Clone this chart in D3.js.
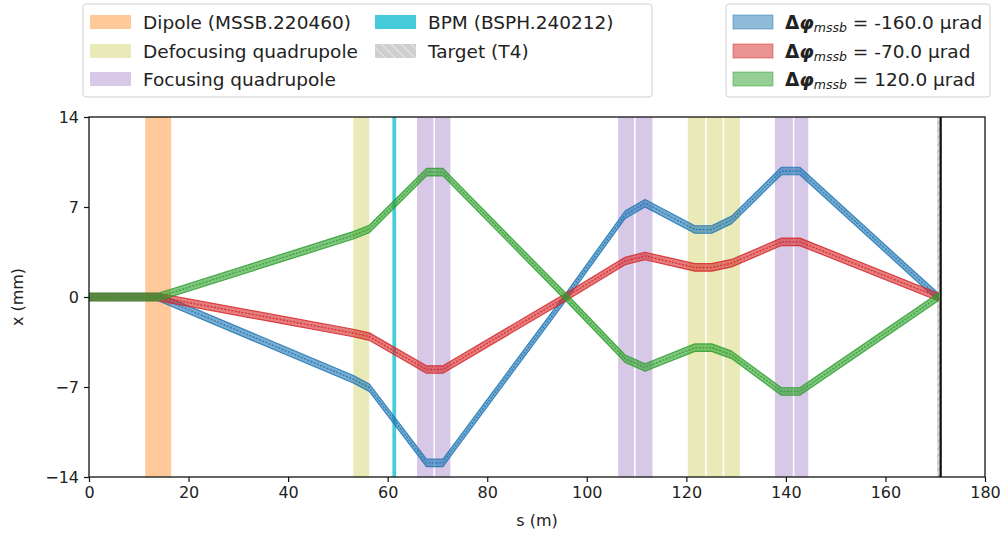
<!DOCTYPE html>
<html><head><meta charset="utf-8">
<script src="https://cdn.jsdelivr.net/npm/d3@7/dist/d3.min.js"></script>
<style>
body{margin:0;background:#fff}
text{font-family:"DejaVu Sans",sans-serif;fill:#222}
</style>
</head><body>
<svg id="c" width="1002" height="534"></svg>
<script>
// ---------- data ----------
const sPositions = [0, 13.9, 53.1, 56.3, 67.8, 71.1, 95.8, 107.7, 111.7, 121.7, 125.1, 129.1, 139.1, 142.8, 170.6];
const trajMinus160 = [0, 0, -6.4, -7.05, -12.9, -12.9, 0, 6.4, 7.3, 5.25, 5.25, 6.0, 9.8, 9.8, 0];
const trajMinus70  = [0, 0, -2.8, -3.08, -5.64, -5.64, 0, 2.8, 3.19, 2.3, 2.3, 2.63, 4.29, 4.29, 0];
const trajPlus120  = [0, 0, 4.8, 5.29, 9.71, 9.71, 0, -4.8, -5.48, -3.94, -3.94, -4.5, -7.35, -7.35, 0];
const seriesLabels = ["-160.0 µrad", "-70.0 µrad", "120.0 µrad"];

const dipoleSpans = [[11.3, 16.5]];
const defocusSpans = [[53.1, 56.3], [120.3, 123.8], [124.1, 127.3], [127.6, 130.8]];
const focusSpans = [[65.9, 69.2], [69.5, 72.6], [106.3, 109.5], [109.8, 113.2], [137.8, 141.4], [141.7, 144.5]];
const bpmSpans = [[60.95, 61.7]];
const targetSpans = [[170.4, 171.1]];
const targetLine = [171.1];

const xTicks = [0, 20, 40, 60, 80, 100, 120, 140, 160, 180];
const yTicks = [-14, -7, 0, 7, 14];

// ---------- layout ----------
const svg = d3.select("#c");
const L = 89, R = 985, T = 117, B = 477;
const x = d3.scaleLinear().domain([0, 180]).range([L, R]);
const y = d3.scaleLinear().domain([-14, 14]).range([B, T]);

const defs = svg.append("defs");
const pat = defs.append("pattern").attr("id", "hatch").attr("patternUnits", "userSpaceOnUse")
  .attr("width", 5).attr("height", 5).attr("patternTransform", "rotate(45)");
pat.append("rect").attr("width", 5).attr("height", 5).attr("fill", "#d4d4d4");
pat.append("line").attr("x1", 0).attr("y1", 0).attr("x2", 0).attr("y2", 5).attr("stroke", "#9a9a9a").attr("stroke-width", 1.6);
const pat2 = defs.append("pattern").attr("id", "hatchL").attr("patternUnits", "userSpaceOnUse")
  .attr("width", 7).attr("height", 7).attr("patternTransform", "rotate(-45)");
pat2.append("rect").attr("width", 7).attr("height", 7).attr("fill", "#cfcfcf");
pat2.append("line").attr("x1", 0).attr("y1", 0).attr("x2", 0).attr("y2", 7).attr("stroke", "#e8e8e8").attr("stroke-width", 2);
defs.append("clipPath").attr("id", "clip").append("rect").attr("x", L).attr("y", T).attr("width", R - L).attr("height", B - T);

const plot = svg.append("g").attr("clip-path", "url(#clip)");

function spans(arr, fill, op) {
  plot.selectAll(null).data(arr).enter().append("rect")
    .attr("x", d => x(d[0])).attr("width", d => x(d[1]) - x(d[0]))
    .attr("y", T).attr("height", B - T)
    .attr("fill", fill).attr("fill-opacity", op);
}
spans(dipoleSpans, "#ff7f0e", 0.42);
spans(defocusSpans, "#bcbd22", 0.32);
spans(focusSpans, "#9467bd", 0.36);
spans(bpmSpans, "#17becf", 0.8);
spans(targetSpans, "url(#hatch)", 0.9);
plot.selectAll(null).data(targetLine).enter().append("line")
  .attr("x1", d => x(d)).attr("x2", d => x(d)).attr("y1", T).attr("y2", B)
  .attr("stroke", "#111").attr("stroke-width", 2.2);

// trajectories
const colors = ["#1f77b4", "#d62728", "#2ca02c"];
const trajs = [trajMinus160, trajMinus70, trajPlus120];
const hw = 0.29;
trajs.forEach((vals, i) => {
  const pts = sPositions.map((s, j) => ({s, v: vals[j]}));
  const area = d3.area().x(d => x(d.s)).y0(d => y(d.v - hw)).y1(d => y(d.v + hw));
  plot.append("path").attr("d", area(pts)).attr("fill", colors[i]).attr("fill-opacity", 0.6)
    .attr("stroke", colors[i]).attr("stroke-width", 1.2).attr("stroke-opacity", 0.85).attr("stroke-linejoin", "round");
  const line = d3.line().x(d => x(d.s)).y(d => y(d.v));
  plot.append("path").attr("d", line(pts)).attr("fill", "none").attr("stroke", colors[i])
    .attr("stroke-width", 1.4).attr("stroke-dasharray", "2,1.5").attr("stroke-opacity", 0.85);
});

// frame
svg.append("rect").attr("x", L).attr("y", T).attr("width", R - L).attr("height", B - T)
  .attr("fill", "none").attr("stroke", "#111").attr("stroke-width", 1.3);

// axes
const xa = svg.append("g").attr("transform", `translate(0,${B})`)
  .call(d3.axisBottom(x).tickValues(xTicks).tickSize(5).tickPadding(5).tickFormat(d3.format("d")));
const ya = svg.append("g").attr("transform", `translate(${L},0)`)
  .call(d3.axisLeft(y).tickValues(yTicks).tickSize(5).tickPadding(5).tickFormat(d => d < 0 ? "\u2212" + Math.abs(d) : d));
[xa, ya].forEach(a => {
  a.select(".domain").remove();
  a.selectAll(".tick line").attr("stroke", "#111").attr("stroke-width", 1.2);
  a.selectAll(".tick text").attr("font-size", 16).attr("fill", "#222").attr("font-family", "DejaVu Sans");
});
svg.append("text").attr("x", (L + R) / 2).attr("y", 526).attr("text-anchor", "middle").attr("font-size", 16).text("s (m)");
svg.append("text").attr("transform", `translate(23,${(T + B) / 2}) rotate(-90)`).attr("text-anchor", "middle").attr("font-size", 16).text("x (mm)");

// legends
function box(x0, y0, w, h) {
  svg.append("rect").attr("x", x0).attr("y", y0).attr("width", w).attr("height", h).attr("rx", 3)
    .attr("fill", "#fff").attr("stroke", "#d0d0d0").attr("stroke-width", 1);
}
box(83, 4, 569, 93);
const rowY = [22, 51, 79];
const legL = [
  {c: 0, r: 0, fill: "#ff7f0e", op: 0.42, t: "Dipole (MSSB.220460)"},
  {c: 0, r: 1, fill: "#bcbd22", op: 0.32, t: "Defocusing quadrupole"},
  {c: 0, r: 2, fill: "#9467bd", op: 0.36, t: "Focusing quadrupole"},
  {c: 1, r: 0, fill: "#17becf", op: 0.8, t: "BPM (BSPH.240212)"},
  {c: 1, r: 1, fill: "url(#hatchL)", op: 1, t: "Target (T4)"}
];
const colX = [90, 375];
legL.forEach(d => {
  svg.append("rect").attr("x", colX[d.c]).attr("y", rowY[d.r] - 7).attr("width", 41).attr("height", 14)
    .attr("fill", d.fill).attr("fill-opacity", d.op);
  svg.append("text").attr("x", colX[d.c] + 53).attr("y", rowY[d.r] + 6.5).attr("font-size", 18.5).text(d.t);
});
box(726, 4, 264, 93);
seriesLabels.forEach((lab, i) => {
  svg.append("rect").attr("x", 733).attr("y", rowY[i] - 7).attr("width", 40).attr("height", 14)
    .attr("fill", colors[i]).attr("fill-opacity", 0.5).attr("stroke", colors[i]).attr("stroke-opacity", 0.5);
  const t = svg.append("text").attr("x", 785).attr("y", rowY[i] + 6.5).attr("font-size", 18.5);
  t.append("tspan").attr("font-weight", "bold").text("\u0394");
  t.append("tspan").attr("font-style", "italic").attr("font-weight", "bold").text("\u03c6");
  t.append("tspan").attr("font-style", "italic").attr("font-size", 12.5).attr("dy", 3).text("mssb");
  t.append("tspan").attr("dy", -3).text(" = " + lab);
});
</script>
</body></html>
